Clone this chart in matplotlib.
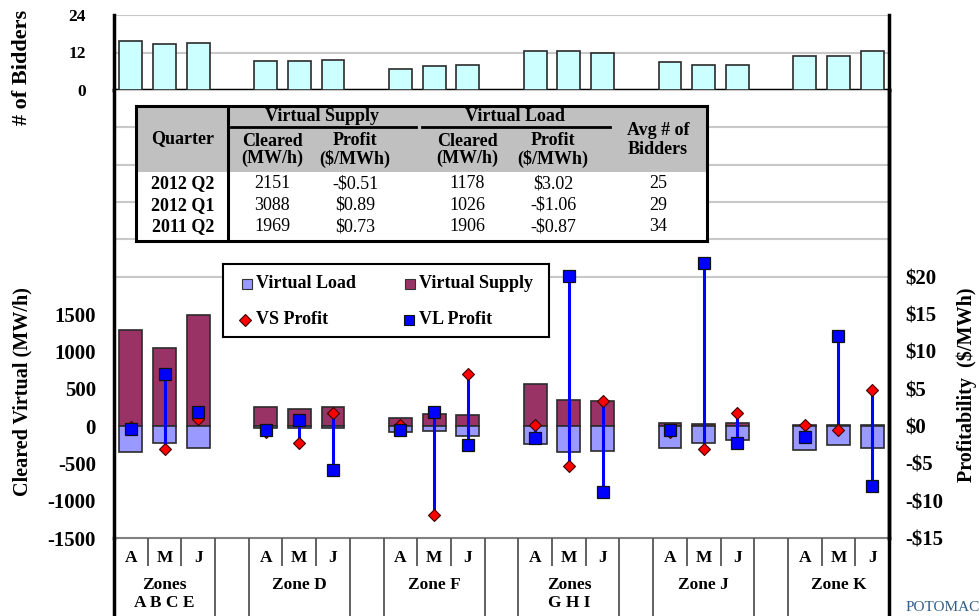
import matplotlib
matplotlib.use("Agg")
import matplotlib.pyplot as plt
import numpy as np
from matplotlib.patches import Rectangle

# ---------------------------------------------------------------- data
zones = ["Zones\nA B C E", "Zone D", "Zone F", "Zones\nG H I", "Zone J", "Zone K"]
months = ["A", "M", "J"]

# average number of bidders per zone / month
bidders = [15.7, 14.6, 14.9, 9.2, 9.2, 9.5, 6.6, 7.7, 8.0,
           12.4, 12.4, 11.7, 9.1, 8.0, 8.0, 10.9, 10.9, 12.4]

# cleared virtual MW/h
vs_cleared = [1280, 1050, 1480, 260, 225, 260, 105, 155, 145,
              565, 350, 335, 45, 30, 45, 8, 8, 8]
vl_cleared = [-350, -230, -290, -30, -30, -30, -75, -65, -135,
              -240, -350, -335, -290, -230, -185, -320, -260, -290]

# profitability $/MWh
vs_profit = [-0.2, -3.1, 1.0, -0.8, -2.3, 1.7, 0.1, -11.9, 7.0,
             0.1, -5.3, 3.4, -0.8, -3.1, 1.8, 0.2, -0.5, 4.8]
vl_profit = [-0.4, 7.0, 1.9, -0.5, 0.8, -5.9, -0.5, 1.9, -2.5,
             -1.6, 20.1, -8.8, -0.6, 21.8, -2.3, -1.5, 12.1, -8.0]

mw_ticks = [-1500, -1000, -500, 0, 500, 1000, 1500]
usd_ticks = [-15, -10, -5, 0, 5, 10, 15, 20]
bidder_ticks = [0, 12, 24]

# summary table
tbl_quarters = ["2012 Q2", "2012 Q1", "2011 Q2"]
tbl_vs_cleared = ["2151", "3088", "1969"]
tbl_vs_profit = ["-$0.51", "$0.89", "$0.73"]
tbl_vl_cleared = ["1178", "1026", "1906"]
tbl_vl_profit = ["$3.02", "-$1.06", "-$0.87"]
tbl_bidders = ["25", "29", "34"]

# ---------------------------------------------------------------- style
plt.rcParams["font.family"] = ["Liberation Serif", "DejaVu Serif"]
plt.rcParams["font.weight"] = "bold"

W, H = 980, 616
fig = plt.figure(figsize=(W / 100, H / 100), dpi=100)


def frect(x0, y0, x1, y1):
    """Pixel box (top-left origin) -> figure fraction rect."""
    return [x0 / W, 1 - y1 / H, (x1 - x0) / W, (y1 - y0) / H]


def fpt(x, y):
    return x / W, 1 - y / H


n_slots = 3 * len(zones) + len(zones) - 1
xpos = np.array([4 * z + m + 0.5 for z in range(len(zones)) for m in range(len(months))])
bar_w = 0.68

GRID = "#C8C8C8"
VL_COL = "#9999FF"
VS_COL = "#993366"

# ---------------------------------------------------------------- bidders panel
ax_top = fig.add_axes(frect(114, 15, 889, 90))
ax_top.bar(xpos, bidders, width=bar_w, color="#CCFFFF", edgecolor="#2b2b2b",
           linewidth=1.2, zorder=3)
ax_top.set_xlim(0, n_slots)
ax_top.set_ylim(0, 24)
ax_top.set_yticks(bidder_ticks)
ax_top.set_yticklabels([str(t) for t in bidder_ticks], fontsize=12.5, fontweight="bold")
ax_top.tick_params(axis="y", length=0, pad=20)
ax_top.set_xticks(np.arange(1, n_slots))
ax_top.tick_params(axis="x", length=4, width=1.2, color="#808080",
                   labelbottom=False, direction="out")
for v in (12, 24):
    ax_top.axhline(v, color=GRID, lw=1.5, zorder=1)
ax_top.spines["top"].set_visible(False)
for s in ("left", "right", "bottom"):
    ax_top.spines[s].set_color("black")
    ax_top.spines[s].set_linewidth(2.5)

# ---------------------------------------------------------------- main panel
ax = fig.add_axes(frect(114, 90, 889, 538))
ax.set_xlim(0, n_slots)
ax.set_ylim(-1500, 4500)
ax.set_yticks(np.arange(-1500, 4501, 500), minor=True)
ax.set_yticks(mw_ticks)
ax.set_yticklabels([str(t) for t in mw_ticks], fontsize=15, fontweight="bold")
ax.tick_params(axis="y", which="both", length=0, pad=13)
ax.set_xticks([])
ax.grid(axis="y", which="minor", color=GRID, lw=1.5)
ax.set_axisbelow(True)

ax.bar(xpos, vs_cleared, width=bar_w, color=VS_COL, edgecolor="#2b2b2b",
       linewidth=1.2, zorder=3)
ax.bar(xpos, vl_cleared, width=bar_w, color=VL_COL, edgecolor="#2b2b2b",
       linewidth=1.2, zorder=3)

ax.spines["top"].set_visible(False)
ax.spines["bottom"].set_color("#808080")
ax.spines["bottom"].set_linewidth(1.5)
for s in ("left", "right"):
    ax.spines[s].set_color("black")
    ax.spines[s].set_linewidth(2.5)

ax2 = ax.twinx()
ax2.set_ylim(-15, 45)
ax2.set_yticks(usd_ticks)
ax2.set_yticklabels([("-$%d" % -t) if t < 0 else ("$%d" % t) for t in usd_ticks],
                    fontsize=15, fontweight="bold")
ax2.tick_params(axis="y", length=0, pad=12)
ax2.set_xticks([])
for s in ("top", "bottom", "left"):
    ax2.spines[s].set_visible(False)
ax2.spines["right"].set_color("black")
ax2.spines["right"].set_linewidth(2.5)

lo = np.minimum(vs_profit, vl_profit)
hi = np.maximum(vs_profit, vl_profit)
ax2.vlines(xpos, lo, hi, color="#0000FF", lw=2.2, zorder=4)
ax2.plot(xpos, vs_profit, linestyle="none", marker="D", ms=6.5,
         mfc="#FF0000", mec="#3a0000", mew=0.8, zorder=5)
ax2.plot(xpos, vl_profit, linestyle="none", marker="s", ms=8,
         mfc="#0000FF", mec="#111111", mew=0.9, zorder=6)

# ---------------------------------------------------------------- category axis
ax_cat = fig.add_axes(frect(114, 538, 889, 616))
ax_cat.set_xlim(0, n_slots)
ax_cat.set_ylim(78, 0)
ax_cat.set_xticks([])
ax_cat.set_yticks([])
ax_cat.patch.set_alpha(0)
for s in ("top", "bottom"):
    ax_cat.spines[s].set_visible(False)
for s in ("left", "right"):
    ax_cat.spines[s].set_color("black")
    ax_cat.spines[s].set_linewidth(2.5)

for b in range(1, n_slots):
    slot_left = b - 1
    full = (slot_left % 4 == 2) or (slot_left % 4 == 3)
    ax_cat.vlines(b, 0, 78 if full else 28, color="#555555", lw=1.3)

for i, x in enumerate(xpos):
    ax_cat.text(x, 19.5, months[i % 3], ha="center", va="center",
                fontsize=12.5, fontweight="bold")
for z, name in enumerate(zones):
    ax_cat.text(4 * z + 1.5, 39, name, ha="center", va="top", fontsize=12.5,
                fontweight="bold", linespacing=1.2)

# ---------------------------------------------------------------- axis titles
fig.text(*fpt(22, 67), "# of Bidders", rotation=90, ha="center", va="center",
         fontsize=16, fontweight="bold")
fig.text(*fpt(22, 392), "Cleared Virtual (MW/h)", rotation=90, ha="center",
         va="center", fontsize=14.5, fontweight="bold")
fig.text(*fpt(967, 385), "Profitability  ($/MWh)", rotation=90, ha="center",
         va="center", fontsize=14.5, fontweight="bold")

# ---------------------------------------------------------------- summary table
ax_tab = fig.add_axes(frect(136, 106, 707, 241))
ax_tab.set_zorder(10)
ax_tab.set_xlim(136, 707)
ax_tab.set_ylim(241, 106)
ax_tab.set_xticks([])
ax_tab.set_yticks([])
for s in ax_tab.spines.values():
    s.set_linewidth(2.2)
    s.set_color("black")
ax_tab.add_patch(Rectangle((136, 106), 571, 66, facecolor="#C0C0C0",
                           edgecolor="none"))
ax_tab.plot([228, 228], [106, 241], color="black", lw=2.2)
ax_tab.plot([231, 416], [127, 127], color="black", lw=2)
ax_tab.plot([422, 610], [127, 127], color="black", lw=2)

TF = 13
col_x = [183, 272, 355, 467, 553, 658]
ax_tab.text(322, 117, "Virtual Supply", ha="center", va="center", fontsize=TF)
ax_tab.text(515, 117, "Virtual Load", ha="center", va="center", fontsize=TF)
ax_tab.text(col_x[0], 139, "Quarter", ha="center", va="center", fontsize=TF)
for cx, lab in zip(col_x[1:5], ["Cleared\n(MW/h)", "Profit\n($/MWh)",
                                 "Cleared\n(MW/h)", "Profit\n($/MWh)"]):
    ax_tab.text(cx, 150, lab, ha="center", va="center", fontsize=TF,
                linespacing=1.0)
ax_tab.text(col_x[5], 140, "Avg # of\nBidders", ha="center", va="center",
            fontsize=TF, linespacing=1.1)

row_y = [184, 205.5, 227]
for r in range(len(tbl_quarters)):
    ax_tab.text(col_x[0], row_y[r], tbl_quarters[r], ha="center", va="center",
                fontsize=TF, fontweight="bold")
    vals = [tbl_vs_cleared[r], tbl_vs_profit[r], tbl_vl_cleared[r],
            tbl_vl_profit[r], tbl_bidders[r]]
    for cx, v in zip(col_x[1:], vals):
        ax_tab.text(cx, row_y[r], v, ha="center", va="center", fontsize=TF,
                    fontweight="normal")

# ---------------------------------------------------------------- legend
ax_leg = fig.add_axes(frect(223, 264, 549, 337))
ax_leg.set_zorder(10)
ax_leg.set_xlim(223, 549)
ax_leg.set_ylim(337, 264)
ax_leg.set_xticks([])
ax_leg.set_yticks([])
for s in ax_leg.spines.values():
    s.set_linewidth(1.5)
    s.set_color("black")
ax_leg.plot([246.5], [283.5], marker="s", ms=7.5, mfc=VL_COL, mec="#333333",
            mew=0.8, linestyle="none")
ax_leg.plot([409.5], [283.5], marker="s", ms=7.5, mfc=VS_COL, mec="#333333",
            mew=0.8, linestyle="none")
ax_leg.plot([245], [320], marker="D", ms=6, mfc="#FF0000", mec="#3a0000",
            mew=0.8, linestyle="none")
ax_leg.plot([409], [320], marker="s", ms=7.5, mfc="#0000FF", mec="#111111",
            mew=0.8, linestyle="none")
LF = 13
ax_leg.text(256, 284, "Virtual Load", ha="left", va="center", fontsize=LF)
ax_leg.text(419, 284, "Virtual Supply", ha="left", va="center", fontsize=LF)
ax_leg.text(256, 320, "VS Profit", ha="left", va="center", fontsize=LF)
ax_leg.text(419, 320, "VL Profit", ha="left", va="center", fontsize=LF)

# ---------------------------------------------------------------- corner mark
fig.text(*fpt(906, 614), "POTOMAC", ha="left", va="bottom", fontsize=11,
         fontweight="normal", color="#2F5F8A")

fig.savefig("out.png", dpi=100)
